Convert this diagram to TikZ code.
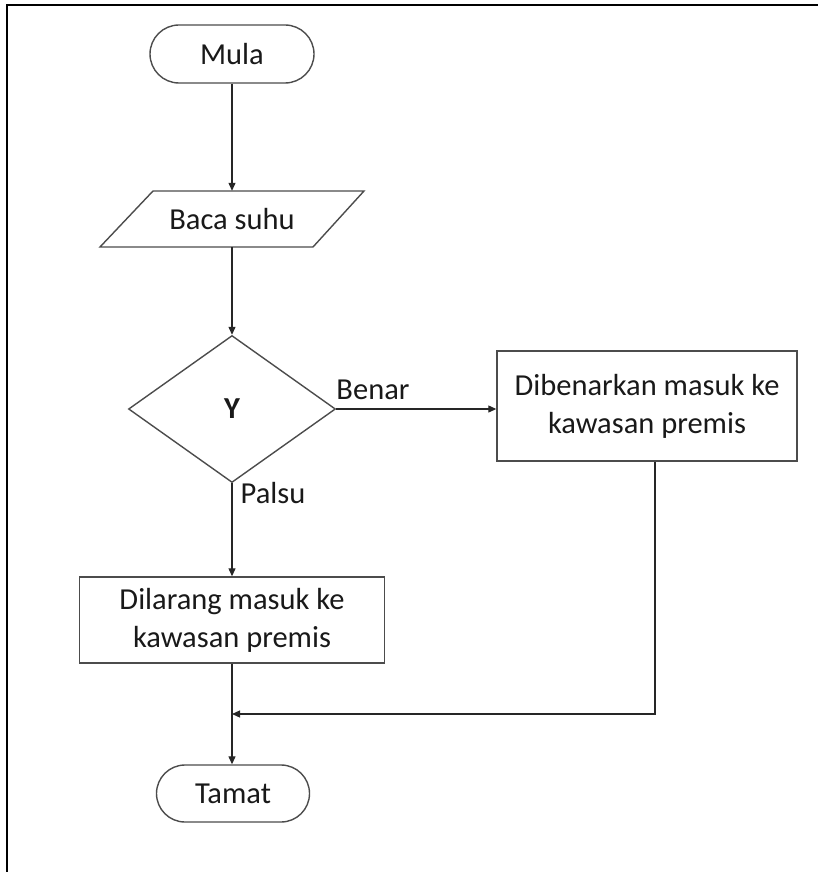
\documentclass[tikz,border=0pt]{standalone}
\usepackage{fontspec}
\setmainfont{Carlito}
\usetikzlibrary{shapes.geometric,shapes.misc,arrows.meta}
\begin{document}
\begin{tikzpicture}[x=1pt,y=-1pt,
  every node/.style={font=\fontsize{30.5}{38}\selectfont, text=black!90},
  shapeline/.style={draw=black!70, line width=1.4pt},
  term/.style={shapeline, rounded rectangle, inner sep=0pt},
  procbox/.style={shapeline, rectangle, inner sep=0pt, align=center},
  conn/.style={draw=black!85, line width=1.2pt},
  arr/.style={conn, -{Triangle[width=7pt,length=8pt]}},
  lbl/.style={inner sep=0pt}
]
\useasboundingbox (0,0) rectangle (817,872);
\draw[line width=2.2pt] (7,875) -- (7,5) -- (820,5);

\node[term, minimum width=164pt, minimum height=58pt] (mula) at (232,54) {Mula};

\node[inner sep=0pt, minimum width=212pt, minimum height=56pt] (baca) at (232,219) {Baca suhu};
\draw[shapeline] (100,247) -- (153,191) -- (364,191) -- (313,247) -- cycle;

\node[shapeline, diamond, inner sep=0pt, minimum width=207pt, minimum height=147pt, font=\fontsize{30.5}{38}\selectfont\bfseries] (dia) at (232,409) {Y};

\node[procbox, minimum width=300pt, minimum height=110pt] (benar) at (647,406) {Dibenarkan masuk ke\\kawasan premis};

\node[procbox, minimum width=305pt, minimum height=86pt] (larang) at (232,620) {Dilarang masuk ke\\kawasan premis};

\node[term, minimum width=153pt, minimum height=57pt] (tamat) at (233,793.5) {Tamat};

\node[lbl] (lbenar) at (373,390) {Benar};
\node[lbl] (lpalsu) at (273,493) {Palsu};

\coordinate (j) at (232,714);

\draw[arr] (mula.south) -- (mula.south |- baca.north);
\draw[arr] (baca.south -| dia.north) -- (dia.north);
\draw[arr] (dia.east) -- (dia.east -| benar.west);
\draw[arr] (dia.south) -- (dia.south |- larang.north);
\draw[conn] (larang.south) -- (j);
\draw[arr] (j) -- (j |- tamat.north);
\draw[arr] ([xshift=8pt]benar.south) |- (j);
\end{tikzpicture}
\end{document}
